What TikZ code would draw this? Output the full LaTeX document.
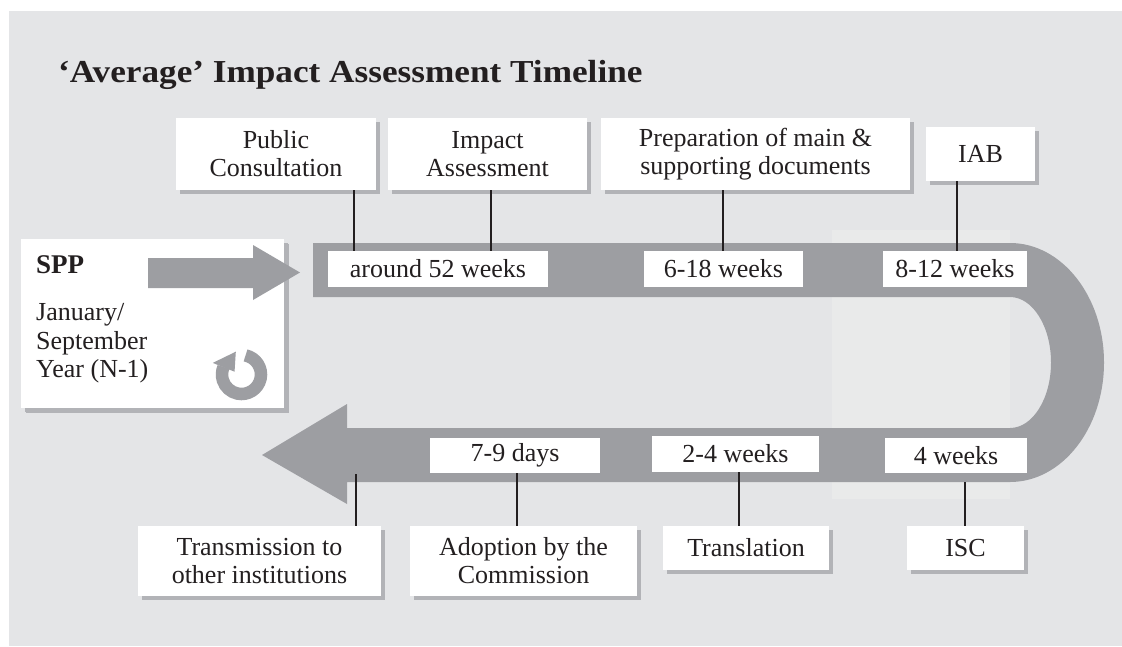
\documentclass[tikz,border=0pt]{standalone}
\usepackage{fontspec}
\setmainfont{Liberation Serif}
\newfontfamily\headfont{Liberation Serif}[FakeStretch=1.1]
\usetikzlibrary{shadows}

\definecolor{bggray}{HTML}{E4E5E7}
\definecolor{litegray}{HTML}{E9EAEA}
\definecolor{bandgray}{HTML}{9D9EA2}
\definecolor{shadegray}{HTML}{B2B3B7}
\definecolor{ink}{HTML}{231F20}

\tikzset{
  bodyfont/.style={font=\fontsize{26}{28}\selectfont},
  panel/.style={fill=white, inner sep=0pt, align=center, text=ink, bodyfont,
    drop shadow={shadow xshift=4pt, shadow yshift=-4pt, fill=shadegray, opacity=1}},
  tag/.style={fill=white, inner sep=0pt, text=ink, bodyfont},
  link/.style={draw=ink, line width=1.1pt},
  plain/.style={inner sep=0pt, text=ink, bodyfont},
}

\begin{document}
\begin{tikzpicture}[x=1pt, y=-1pt]
\useasboundingbox (0,0) rectangle (1122,646);

% backdrop
\fill[bggray] (9,11) rectangle (1122,646);
\fill[litegray] (832,230) rectangle (1010,499);

% title
\node[anchor=base west, inner sep=0pt, text=ink, font=\headfont\fontsize{32}{34}\selectfont\bfseries]
  (title) at (58,82) {‘Average’ Impact Assessment Timeline};

% the U-shaped timeline band with its arrow head
\fill[bandgray] (313,243) -- (1010,243)
  .. controls (1061.9,243) and (1104,296.5) .. (1104,362.5)
  .. controls (1104,428.5) and (1061.9,482) .. (1010,482)
  -- (347,482) -- (347,504) -- (262,455) -- (347,404) -- (347,428)
  -- (1010,428)
  .. controls (1032.6,428) and (1051,398.7) .. (1051,362.5)
  .. controls (1051,326.3) and (1032.6,297) .. (1010,297)
  -- (313,297) -- cycle;

% SPP box
\node[panel, drop shadow={shadow xshift=5pt, shadow yshift=-5pt, fill=shadegray, opacity=1},
  minimum width=263pt, minimum height=169pt] (spp) at (152.5,323.5) {};
\node[plain, anchor=base west, font=\fontsize{27}{28}\selectfont\bfseries] (sppA) at (36,273) {SPP};
\node[plain, anchor=base west] (sppB) at (36,320) {January/};
\node[plain, anchor=base west] (sppC) at (36,349) {September};
\node[plain, anchor=base west] (sppD) at (36,377) {Year (N-1)};

% entry arrow
\fill[bandgray] (148,258) -- (253,258) -- (253,245) -- (300,272.5) -- (253,300)
  -- (253,288) -- (148,288) -- cycle;

% cycle icon
\begin{scope}[shift={(241.5,374.5)}, x=1pt, y=1pt]
  \draw[bandgray, line width=12.5pt] (78:19.5) arc[start angle=78, end angle=-203, radius=19.5pt];
  \fill[bandgray] (158:31) -- (104:23.5) -- (158:7.5) -- cycle;
\end{scope}

% durations on the band
\node[tag, minimum width=220pt, minimum height=36pt] (w52) at (438,269) {around 52 weeks};
\node[tag, minimum width=159pt, minimum height=36pt] (w618) at (723.5,269) {6-18 weeks};
\node[tag, minimum width=144pt, minimum height=36pt] (w812) at (955,269) {8-12 weeks};
\node[tag, minimum width=170pt, minimum height=35pt] (d79) at (515,455.5) {7-9 days};
\node[tag, minimum width=167pt, minimum height=36pt] (w24) at (735.5,454) {2-4 weeks};
\node[tag, minimum width=142pt, minimum height=35pt] (w4) at (956,455.5) {4 weeks};

% stages above
\node[panel, minimum width=200pt, minimum height=72pt] (pc) at (276,154) {Public\\Consultation};
\node[panel, minimum width=199pt, minimum height=72pt] (ia) at (487.5,154) {Impact\\Assessment};
\node[panel, minimum width=309pt, minimum height=72pt] (prep) at (755.5,154) {Preparation of main \&\\supporting documents};
\node[panel, minimum width=109pt, minimum height=54pt] (iab) at (980.5,154) {IAB};

% stages below
\node[panel, minimum width=243pt, minimum height=70pt] (trans) at (259.5,561) {Transmission to\\other institutions};
\node[panel, minimum width=227pt, minimum height=70pt] (adopt) at (523.5,561) {Adoption by the\\Commission};
\node[panel, minimum width=166pt, minimum height=44pt] (transl) at (746,548) {Translation};
\node[panel, minimum width=117pt, minimum height=44pt] (isc) at (965.5,548) {ISC};

% connector positions
\coordinate (xpc) at (354,0);
\coordinate (xia) at (491,0);
\coordinate (xprep) at (723,0);
\coordinate (xiab) at (957,0);
\coordinate (xadopt) at (517,0);
\coordinate (xtransl) at (739,0);
\coordinate (ttop) at (356,474);
\coordinate (itop) at (965,482);

\draw[link] (pc.south -| xpc) -- (w52.north -| xpc);
\draw[link] (ia.south -| xia) -- (w52.north -| xia);
\draw[link] (prep.south -| xprep) -- (w618.north -| xprep);
\draw[link] (iab.south -| xiab) -- (w812.north -| xiab);
\draw[link] (ttop) -- (trans.north -| ttop);
\draw[link] (d79.south -| xadopt) -- (adopt.north -| xadopt);
\draw[link] (w24.south -| xtransl) -- (transl.north -| xtransl);
\draw[link] (itop) -- (isc.north -| itop);
\end{tikzpicture}
\end{document}
